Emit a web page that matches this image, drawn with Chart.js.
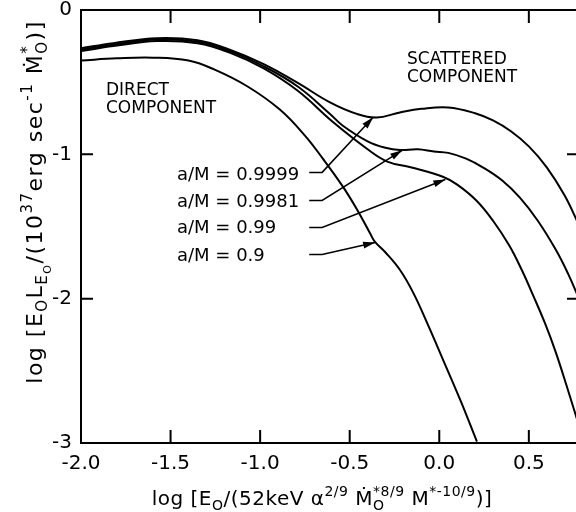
<!DOCTYPE html>
<html>
<head>
<meta charset="utf-8">
<script src="https://cdn.jsdelivr.net/npm/chart.js@4/dist/chart.umd.min.js"></script>
<style>
  body { margin: 0; overflow: hidden; background: #fff; }
</style>
</head>
<body>
<canvas id="spectrum" width="584" height="512"></canvas>
<script>
// spectra, log E vs log E*L_E
var x9999 = [-2.0, -1.82, -1.575, -1.35, -1.17, -0.98, -0.79, -0.61, -0.46, -0.35, -0.22, -0.1, 0.05, 0.2, 0.3, 0.4, 0.5, 0.6, 0.7, 0.78];
var y9999 = [-0.265, -0.23, -0.195, -0.21, -0.275, -0.375, -0.505, -0.64, -0.72, -0.745, -0.71, -0.685, -0.675, -0.715, -0.765, -0.84, -0.945, -1.09, -1.285, -1.49];

var x9981 = [-2.0, -1.82, -1.575, -1.35, -1.17, -0.98, -0.79, -0.61, -0.54, -0.40, -0.30, -0.22, -0.12, -0.03, 0.05, 0.15, 0.25, 0.35, 0.45, 0.55, 0.65, 0.72, 0.78];
var y9981 = [-0.275, -0.24, -0.205, -0.22, -0.285, -0.39, -0.53, -0.72, -0.80, -0.91, -0.955, -0.97, -0.965, -0.98, -0.99, -1.03, -1.095, -1.18, -1.30, -1.46, -1.66, -1.83, -2.0];

var x99 = [-2.0, -1.82, -1.575, -1.35, -1.17, -0.98, -0.79, -0.59, -0.40, -0.29, -0.16, 0.02, 0.10, 0.207, 0.30, 0.39, 0.46, 0.525, 0.59, 0.65, 0.71, 0.78];
var y99 = [-0.285, -0.25, -0.215, -0.23, -0.295, -0.405, -0.56, -0.78, -0.965, -1.05, -1.09, -1.155, -1.21, -1.32, -1.46, -1.63, -1.80, -1.98, -2.17, -2.37, -2.60, -2.88];

var x9 = [-2.0, -1.8, -1.6, -1.4, -1.26, -1.07, -0.89, -0.75, -0.65, -0.54, -0.46, -0.385, -0.36, -0.3, -0.22, -0.145, -0.06, 0.02, 0.12, 0.21];
var y9 = [-0.35, -0.335, -0.33, -0.35, -0.41, -0.53, -0.69, -0.87, -1.03, -1.22, -1.38, -1.55, -1.605, -1.68, -1.80, -1.96, -2.19, -2.42, -2.71, -2.99];

// labels and the arrows pointing from them to the curves
var spinLabels = ['a/M = 0.9999', 'a/M = 0.9981', 'a/M = 0.99', 'a/M = 0.9'];
var leaderX = [[-0.726, -0.654, -0.369], [-0.726, -0.654, -0.207], [-0.726, -0.654, 0.034], [-0.726, -0.654, -0.358]];
var leaderY = [[-1.125, -1.125, -0.743], [-1.319, -1.319, -0.972], [-1.507, -1.507, -1.174], [-1.694, -1.694, -1.611]];

var xTicks = [-2.0, -1.5, -1.0, -0.5, 0.0, 0.5];
var xTickLabels = ['-2.0', '-1.5', '-1.0', '-0.5', '0.0', '0.5'];
var yTicks = [0, -1, -2, -3];
var yTickLabels = ['0', '-1', '-2', '-3'];

var FONT = '"DejaVu Sans"';

function toPoints(xs, ys) {
  var pts = [];
  for (var i = 0; i < xs.length; i++) {
    pts.push({ x: xs[i], y: ys[i] });
  }
  return pts;
}

function curve(xs, ys) {
  return {
    data: toPoints(xs, ys),
    borderColor: '#000',
    borderWidth: 2,
    pointRadius: 0,
    tension: 0.4
  };
}

function leader(i) {
  return {
    data: toPoints(leaderX[i], leaderY[i]),
    borderColor: '#000',
    borderWidth: 1.5,
    pointRadius: 0,
    tension: 0
  };
}

// draws text pieces one after another, with sub and superscripts
function runsWidth(ctx, runs, spacing) {
  var w = 0, held = 0;
  runs.forEach(function(r) {
    ctx.font = r.s + 'px ' + FONT;
    var rw = ctx.measureText(r.t).width + spacing * r.t.length;
    if (r.hold) { held = rw; return; }
    w += Math.max(rw, held);
    held = 0;
  });
  return w;
}

function drawRuns(ctx, runs, x, y, spacing) {
  var held = 0;
  runs.forEach(function(r) {
    ctx.font = r.s + 'px ' + FONT;
    ctx.letterSpacing = spacing + 'px';
    ctx.fillText(r.t, x, y + (r.dy || 0));
    var rw = ctx.measureText(r.t).width + (ctx.letterSpacing ? 0 : spacing * r.t.length);
    if (r.hold) { held = rw; return; }
    x += Math.max(rw, held);
    held = 0;
  });
  ctx.letterSpacing = '0px';
}

var xTitle = [
  { t: 'log [E', s: 20 },
  { t: 'O', s: 14, dy: 5 },
  { t: '/(52keV α', s: 20 },
  { t: '2/9', s: 14, dy: -9 },
  { t: ' Ṁ', s: 20 },
  { t: '*8/9', s: 14, dy: -9, hold: true },
  { t: 'O', s: 14, dy: 5 },
  { t: ' M', s: 20 },
  { t: '*-10/9', s: 14, dy: -9 },
  { t: ')]', s: 20 }
];

var yTitle = [
  { t: 'log [E', s: 22 },
  { t: 'O', s: 15, dy: 5 },
  { t: 'L', s: 22 },
  { t: 'E', s: 15, dy: 5 },
  { t: 'O', s: 11, dy: 9 },
  { t: '/(10', s: 22 },
  { t: '37', s: 15, dy: -10 },
  { t: 'erg sec', s: 22 },
  { t: '-1', s: 15, dy: -10 },
  { t: ' Ṁ', s: 22 },
  { t: '*', s: 15, dy: -10, hold: true },
  { t: 'O', s: 15, dy: 5 },
  { t: ')]', s: 22 }
];

var framePlugin = {
  id: 'frame',
  afterDraw: function(chart) {
    var ctx = chart.ctx, a = chart.chartArea;
    var xs = chart.scales.x, ys = chart.scales.y;
    ctx.save();
    ctx.strokeStyle = '#000';
    ctx.lineWidth = 2;
    ctx.strokeRect(a.left, a.top, a.right - a.left, a.bottom - a.top);
    ctx.beginPath();
    xTicks.forEach(function(v) {
      if (v <= xs.min) return;
      var px = xs.getPixelForValue(v);
      ctx.moveTo(px, a.bottom); ctx.lineTo(px, a.bottom - 13);
      ctx.moveTo(px, a.top); ctx.lineTo(px, a.top + 13);
    });
    yTicks.forEach(function(v) {
      if (v <= ys.min || v >= ys.max) return;
      var py = ys.getPixelForValue(v);
      ctx.moveTo(a.left, py); ctx.lineTo(a.left + 12, py);
      ctx.moveTo(a.right, py); ctx.lineTo(a.right - 12, py);
    });
    ctx.stroke();
    ctx.restore();
  }
};

var textPlugin = {
  id: 'texts',
  afterDatasetsDraw: function(chart) {
    var ctx = chart.ctx;
    var xs = chart.scales.x, ys = chart.scales.y;
    ctx.save();
    ctx.fillStyle = '#000';
    ctx.textAlign = 'left';
    ctx.textBaseline = 'alphabetic';

    // arrow heads at the end of each leader
    for (var i = 0; i < leaderX.length; i++) {
      var n = leaderX[i].length;
      var tx = xs.getPixelForValue(leaderX[i][n - 1]), ty = ys.getPixelForValue(leaderY[i][n - 1]);
      var fx = xs.getPixelForValue(leaderX[i][n - 2]), fy = ys.getPixelForValue(leaderY[i][n - 2]);
      var ang = Math.atan2(ty - fy, tx - fx);
      ctx.beginPath();
      ctx.moveTo(tx, ty);
      ctx.lineTo(tx - 12 * Math.cos(ang) + 3.5 * Math.sin(ang), ty - 12 * Math.sin(ang) - 3.5 * Math.cos(ang));
      ctx.lineTo(tx - 12 * Math.cos(ang) - 3.5 * Math.sin(ang), ty - 12 * Math.sin(ang) + 3.5 * Math.cos(ang));
      ctx.closePath();
      ctx.fill();
    }

    ctx.font = '18px ' + FONT;
    var base = [180, 207, 233, 261];
    spinLabels.forEach(function(s, k) {
      ctx.fillText(s, 177, base[k]);
    });

    ctx.font = '17px ' + FONT;
    ctx.fillText('DIRECT', 106, 95);
    ctx.fillText('COMPONENT', 106, 113);
    ctx.fillText('SCATTERED', 407, 64);
    ctx.fillText('COMPONENT', 407, 82);

    // x axis title, centred where the original sits
    var wx = runsWidth(ctx, xTitle, 0.5);
    drawRuns(ctx, xTitle, 322 - wx / 2, 505, 0.5);

    // y axis title, rotated
    var wy = runsWidth(ctx, yTitle, 1.5);
    ctx.translate(42, 202 + wy / 2);
    ctx.rotate(-Math.PI / 2);
    drawRuns(ctx, yTitle, 0, 0, 1.5);
    ctx.restore();
  }
};

var ctx = document.getElementById('spectrum');
var chart = new Chart(ctx, {
  type: 'line',
  data: {
    datasets: [
      curve(x9999, y9999),
      curve(x9981, y9981),
      curve(x99, y99),
      curve(x9, y9),
      leader(0), leader(1), leader(2), leader(3)
    ]
  },
  options: {
    responsive: false,
    animation: false,
    layout: { padding: { top: 10, right: 5, left: 0, bottom: 0 } },
    plugins: { legend: { display: false }, tooltip: { enabled: false } },
    scales: {
      x: {
        type: 'linear',
        min: -2,
        max: 0.78,
        afterBuildTicks: function(s) { s.ticks = xTicks.map(function(v) { return { value: v }; }); },
        afterFit: function(s) { s.height = 69; s.paddingLeft = 0; s.paddingRight = 0; },
        grid: { display: false, drawTicks: false },
        border: { display: false },
        ticks: {
          color: '#000',
          padding: 9,
          maxRotation: 0,
          autoSkip: false,
          font: { family: 'DejaVu Sans', size: 20 },
          callback: function(v, i) { return xTickLabels[i]; }
        }
      },
      y: {
        type: 'linear',
        min: -3,
        max: 0,
        afterBuildTicks: function(s) { s.ticks = yTicks.map(function(v) { return { value: v }; }); },
        afterFit: function(s) { s.width = 81; s.paddingTop = 0; s.paddingBottom = 0; },
        grid: { display: false, drawTicks: false },
        border: { display: false },
        ticks: {
          color: '#000',
          padding: 9,
          autoSkip: false,
          font: { family: 'DejaVu Sans', size: 20 },
          callback: function(v, i) { return yTickLabels[i]; }
        }
      }
    }
  },
  plugins: [framePlugin, textPlugin]
});
</script>
</body>
</html>
